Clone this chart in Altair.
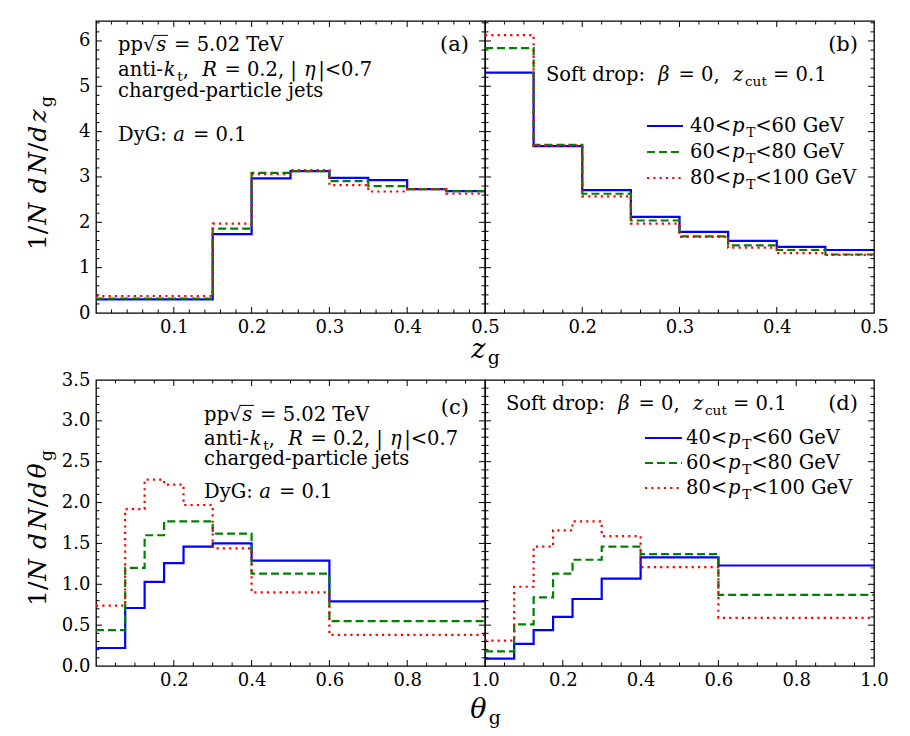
import altair as alt
import pandas as pd

FONT = "DejaVu Serif"
BLUE, GREEN, RED = "#0000ff", "#008000", "#ff0000"

# ---------------- data ----------------
zg_edges_a = [0.0, 0.15, 0.2, 0.25, 0.3, 0.35, 0.4, 0.45, 0.5]
zg_a_40_60 = [0.30, 1.74, 2.97, 3.13, 2.98, 2.93, 2.73, 2.69]
zg_a_60_80 = [0.32, 1.86, 3.09, 3.13, 2.91, 2.80, 2.73, 2.69]
zg_a_80_100 = [0.375, 1.97, 3.06, 3.15, 2.82, 2.68, 2.73, 2.63]

zg_edges_b = [0.1, 0.15, 0.2, 0.25, 0.3, 0.35, 0.4, 0.45, 0.5]
zg_b_40_60 = [5.30, 3.68, 2.71, 2.12, 1.79, 1.59, 1.46, 1.39]
zg_b_60_80 = [5.84, 3.71, 2.63, 2.04, 1.69, 1.49, 1.39, 1.29]
zg_b_80_100 = [6.13, 3.69, 2.57, 1.97, 1.68, 1.44, 1.32, 1.28]

th_edges = [0.0, 0.075, 0.125, 0.175, 0.225, 0.3, 0.4, 0.6, 1.0]
th_c_40_60 = [0.22, 0.71, 1.03, 1.26, 1.46, 1.50, 1.29, 0.79]
th_c_60_80 = [0.44, 1.20, 1.60, 1.77, 1.77, 1.62, 1.13, 0.55]
th_c_80_100 = [0.74, 1.92, 2.28, 2.22, 1.97, 1.44, 0.90, 0.38]
th_d_40_60 = [0.09, 0.27, 0.44, 0.60, 0.82, 1.07, 1.33, 1.23]
th_d_60_80 = [0.18, 0.51, 0.84, 1.13, 1.30, 1.46, 1.37, 0.87]
th_d_80_100 = [0.31, 0.97, 1.46, 1.66, 1.77, 1.59, 1.21, 0.59]

pt_low = [40, 60, 80]
pt_high = [60, 80, 100]

zg_labels_a = [0.1, 0.2, 0.3, 0.4, 0.5]
zg_labels_b = [0.2, 0.3, 0.4, 0.5]
th_labels = [0.2, 0.4, 0.6, 0.8, 1.0]
y_labels_top = [0, 1, 2, 3, 4, 5, 6]
y_labels_bot = [0.0, 0.5, 1.0, 1.5, 2.0, 2.5, 3.0, 3.5]

STYLES = [(BLUE, None), (GREEN, [8, 4]), (RED, [2.2, 4.1])]

# ---------------- helpers ----------------
ONE = alt.Data(values=[{"k": 0}])

W = {' ': .318, '(': .390, ')': .390, ',': .318, '-': .338, '.': .318, '/': .337,
     ':': .337, '<': .838, '=': .838, '|': .337, '√': .636,
     'D': .803, 'G': .775, 'N': .815, 'R': .734, 'S': .685, 'T': .668, 'V': .774,
     'a': .596, 'b': .640, 'c': .560, 'd': .640, 'e': .592, 'f': .370, 'g': .640,
     'h': .644, 'i': .320, 'j': .310, 'k': .609, 'l': .320, 'n': .644, 'o': .602,
     'p': .640, 'r': .478, 's': .513, 't': .402, 'u': .644, 'y': .566, 'z': .529,
     'β': .640, 'η': .644, 'θ': .602}
for dgt in "0123456789":
    W[dgt] = .636


def tw(s, size):
    return sum(W.get(c, 0.6) for c in s) * size


def rich(segs, x, y, size, anchor="left", angle=0):
    parts = []
    for t, kind in segs:
        sub = kind in ("b", "bi")
        ital = kind in ("i", "bi")
        s = size * 0.7 if sub else size
        pre = 0.04 * size if ital else 0.0
        post = 0.09 * size if ital else 0.0
        parts.append((t, kind, s, pre, tw(t, s) + pre + post, sub))
    total = sum(p[4] for p in parts)
    off = {"left": 0.0, "center": -total / 2, "right": -total}[anchor]
    layers = []
    for t, kind, s, pre, w, sub in parts:
        lead = len(t) - len(t.lstrip(" "))
        txt = t.strip(" ")
        if txt:
            layers.append(
                alt.Chart(ONE).mark_text(
                    text=txt, font=FONT, fontSize=s,
                    fontStyle="italic" if kind in ("i", "bi") else "normal",
                    align="left", baseline="alphabetic",
                    dx=off + pre + lead * W[" "] * s,
                    dy=size * 0.24 if sub else 0, angle=angle, color="black",
                ).encode(x=alt.value(x), y=alt.value(y))
            )
        off += w
    return layers


def vinculum(x, y, size):
    x0 = x + tw("pp√", size) - 1
    x1 = x0 + tw("s", size) + 0.13 * size + 1
    yb = y - 0.80 * size
    return alt.Chart(ONE).mark_rule(color="black", strokeWidth=1).encode(
        x=alt.value(x0), x2=alt.value(x1), y=alt.value(yb))


def info_block(x, ys, size):
    y1, y2, y3, y4 = ys
    L = []
    L += rich([("pp", "r"), ("√", "r"), ("s", "i"), (" = 5.02 TeV", "r")], x, y1, size)
    L.append(vinculum(x, y1, size))
    L += rich([("anti-", "r"), ("k", "i"), ("t", "b"), (",  ", "r"), ("R", "i"),
               (" = 0.2,  |", "r"), ("η", "i"), ("|<0.7", "r")], x, y2, size)
    L += rich([("charged-particle jets", "r")], x, y3, size)
    L += rich([("DyG: ", "r"), ("a", "i"), (" = 0.1", "r")], x, y4, size)
    return L


def softdrop(x, y, size):
    return rich([("Soft drop:  ", "r"), ("β", "i"), (" = 0,  ", "r"), ("z", "i"),
                 ("cut", "b"), (" = 0.1", "r")], x, y, size)


def legend(x1, x2, ylines, xt, ytexts, size):
    L = []
    for (col, dash), yl, yt, lo, hi in zip(STYLES, ylines, ytexts, pt_low, pt_high):
        kw = {"strokeDash": dash} if dash else {}
        L.append(alt.Chart(ONE).mark_rule(color=col, strokeWidth=2.2, strokeCap="butt", **kw)
                 .encode(x=alt.value(x1), x2=alt.value(x2), y=alt.value(yl)))
        L += rich([(f"{lo}<", "r"), ("p", "i"), ("T", "b"), (f"<{hi} GeV", "r")], xt, yt, size)
    return L


def steps(edges, vals):
    return pd.DataFrame({"x": edges, "y": list(vals) + [vals[-1]]})


def grid_vals(lo, hi, step):
    n = int(round((hi - lo) / step))
    return [round(lo + i * step, 6) for i in range(n + 1)]


LABEL_SIZE = 18


def panel(series, xdom, ydom, width, height, xlab, xfmt, ylab, yfmt,
          xmaj, xmin, ymaj, ymin, extra):
    xs = alt.Scale(domain=xdom, nice=False, zero=False)
    ys = alt.Scale(domain=ydom, nice=False, zero=False)
    xaxis = alt.Axis(values=xlab, format=xfmt, ticks=False, domain=False, grid=False,
                     labelFlush=False, labelOverlap=False, labelFont=FONT,
                     labelFontSize=LABEL_SIZE, labelColor="black", labelPadding=5, title=None)
    if ylab is not None:
        yaxis = alt.Axis(values=ylab, format=yfmt, ticks=False, domain=False, grid=False,
                         labelOverlap=False, labelFont=FONT, labelFontSize=LABEL_SIZE,
                         labelColor="black", labelPadding=6, title=None)
    else:
        yaxis = None
    layers = []
    # histogram step lines (first, they carry the axes)
    for (edges, vals), (col, dash) in zip(series, STYLES):
        kw = {"strokeDash": dash} if dash else {}
        layers.append(alt.Chart(steps(edges, vals)).mark_line(
            interpolate="step-after", color=col, strokeWidth=2.2, strokeCap="butt", **kw
        ).encode(x=alt.X("x:Q", scale=xs, axis=xaxis), y=alt.Y("y:Q", scale=ys, axis=yaxis)))
    # tick marks (inside the frame, on all four sides)
    for vals, ln in ((ymaj, 6), (ymin, 3.5)):
        df = pd.DataFrame({"v": vals})
        for x0, x1 in ((0, ln), (width, width - ln)):
            layers.append(alt.Chart(df).mark_rule(color="black", strokeWidth=1).encode(
                y=alt.Y("v:Q", scale=ys, axis=yaxis), x=alt.value(x0), x2=alt.value(x1)))
    for vals, ln in ((xmaj, 6), (xmin, 3.5)):
        df = pd.DataFrame({"v": vals})
        for y0, y1 in ((height, height - ln), (0, ln)):
            layers.append(alt.Chart(df).mark_rule(color="black", strokeWidth=1).encode(
                x=alt.X("v:Q", scale=xs, axis=xaxis), y=alt.value(y0), y2=alt.value(y1)))
    layers += extra
    return alt.layer(*layers).properties(width=width, height=height)


TS = 19.5   # annotation font size
AX = 27     # axis title size

# ---------- panel (a)
ya_maj = grid_vals(1, 6, 1)
ya_min = [v for v in grid_vals(0.2, 6.4, 0.2) if abs(v - round(v)) > 1e-6]
xa_maj = grid_vals(0.1, 0.4, 0.1)
xa_min = [v for v in grid_vals(0.02, 0.48, 0.02) if abs(v * 10 - round(v * 10)) > 1e-6]
extra_a = info_block(22, (30, 55, 76, 120), TS)
extra_a += rich([("(a)", "r")], 373, 30, 21, anchor="right")
extra_a += rich([("z", "i"), ("g", "b")], 389, 337, AX, anchor="center")
extra_a += rich([("1/", "r"), ("N", "i"), (" ", "r"), ("d", "i"), ("N", "i"), ("/", "r"),
                 ("d", "i"), ("z", "i"), ("g", "b")], -50, 152, AX - 2, anchor="center", angle=270)
extra_a.append(alt.Chart(ONE).mark_rule(strokeOpacity=0).encode(
    x=alt.value(-95), x2=alt.value(-94), y=alt.value(-20), y2=alt.value(-19)))
pa = panel([(zg_edges_a, zg_a_40_60), (zg_edges_a, zg_a_60_80), (zg_edges_a, zg_a_80_100)],
           [0, 0.5], [0, 6.44], 389, 292, zg_labels_a, ".1f", y_labels_top, "d",
           xa_maj, xa_min, ya_maj, ya_min, extra_a)

# ---------- panel (b)
xb_maj = grid_vals(0.2, 0.4, 0.1)
xb_min = [v for v in grid_vals(0.12, 0.48, 0.02) if abs(v * 10 - round(v * 10)) > 1e-6]
extra_b = rich([("(b)", "r")], 373, 30, 21, anchor="right")
extra_b += softdrop(61, 60, TS)
extra_b += legend(162, 198, (105, 131, 157), 205, (111, 137, 163), TS)
pb = panel([(zg_edges_b, zg_b_40_60), (zg_edges_b, zg_b_60_80), (zg_edges_b, zg_b_80_100)],
           [0.1, 0.5], [0, 6.44], 389, 292, zg_labels_b, ".1f", None, "d",
           xb_maj, xb_min, ya_maj, ya_min, extra_b)

# ---------- panel (c)
yc_maj = grid_vals(0.5, 3.0, 0.5)
yc_min = [v for v in grid_vals(0.1, 3.4, 0.1) if abs(v * 2 - round(v * 2)) > 1e-6]
xc_maj = grid_vals(0.2, 0.8, 0.2)
xc_min = [v for v in grid_vals(0.05, 0.95, 0.05) if abs(v * 5 - round(v * 5)) > 1e-6]
extra_c = info_block(108, (41, 65, 85, 118), TS)
extra_c += rich([("(c)", "r")], 373, 34, 21, anchor="right")
extra_c += rich([("θ", "i"), ("g", "b")], 389, 338, AX, anchor="center")
extra_c += rich([("1/", "r"), ("N", "i"), (" ", "r"), ("d", "i"), ("N", "i"), ("/", "r"),
                 ("d", "i"), ("θ", "i"), ("g", "b")], -50, 148, AX - 2, anchor="center", angle=270)
pc = panel([(th_edges, th_c_40_60), (th_edges, th_c_60_80), (th_edges, th_c_80_100)],
           [0, 1], [0, 3.5], 389, 286, th_labels, ".1f", y_labels_bot, ".1f",
           xc_maj, xc_min, yc_maj, yc_min, extra_c)

# ---------- panel (d)
extra_d = rich([("(d)", "r")], 373, 30, 21, anchor="right")
extra_d += softdrop(21, 30, TS)
extra_d += legend(160, 197, (58, 83, 108), 201, (64, 89, 114), TS)
pd_ = panel([(th_edges, th_d_40_60), (th_edges, th_d_60_80), (th_edges, th_d_80_100)],
            [0, 1], [0, 3.5], 389, 286, th_labels, ".1f", None, ".1f",
            xc_maj, xc_min, yc_maj, yc_min, extra_d)

chart = alt.concat(pa, pb, pc, pd_, columns=2, spacing={"row": 67, "column": 0},
                   bounds="flush").properties(
    padding=0, background="white"
).configure_view(stroke="black", strokeWidth=1.3)

chart.save("out.html", embed_options={"renderer": "svg", "actions": False})
